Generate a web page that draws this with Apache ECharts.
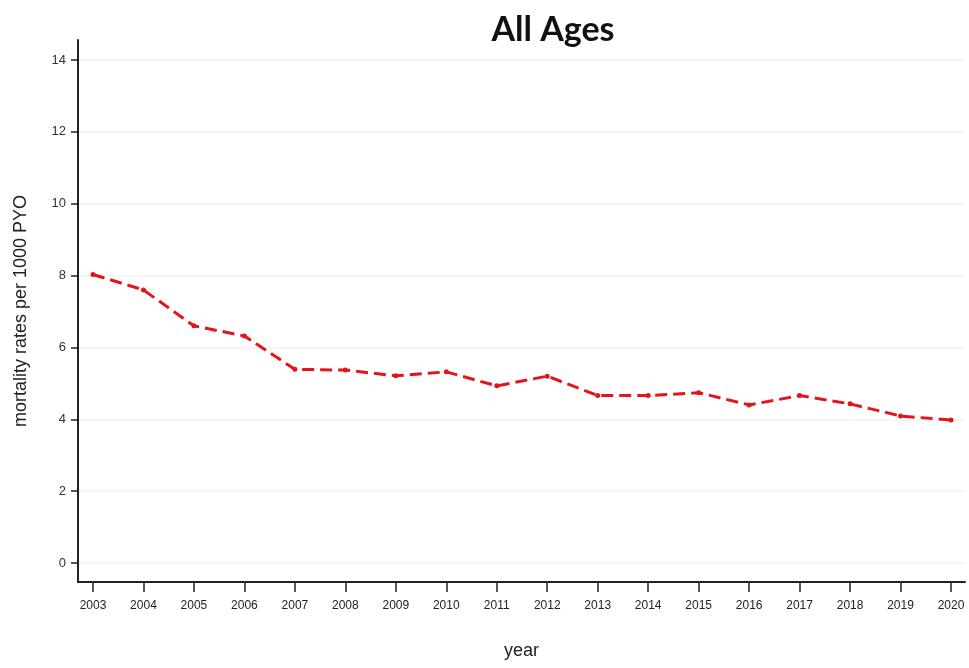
<!DOCTYPE html>
<html>
<head>
<meta charset="utf-8">
<script src="https://cdn.jsdelivr.net/npm/echarts@6/dist/echarts.min.js"></script>
<style>
  html, body { margin: 0; padding: 0; background: #fff; }
  #chart { width: 969px; height: 668px; }
</style>
</head>
<body>
<div id="chart"></div>
<script>
// years on the x axis
var years = [2003, 2004, 2005, 2006, 2007, 2008, 2009, 2010, 2011, 2012,
             2013, 2014, 2015, 2016, 2017, 2018, 2019, 2020];
// mortality rate per 1000 PYO
var rates = [8.03, 7.6, 6.6, 6.32, 5.39, 5.37, 5.21, 5.32, 4.93, 5.2,
             4.66, 4.66, 4.74, 4.4, 4.66, 4.43, 4.09, 3.98];
var yTicks = [0, 2, 4, 6, 8, 10, 12, 14];

var points = years.map(function (y, i) { return [y, rates[i]]; });

var chart = echarts.init(document.getElementById('chart'));
chart.setOption({
  animation: false,
  backgroundColor: '#fff',
  title: {
    text: 'All Ages',
    left: 548,
    top: 8,
    textAlign: 'center',
    textStyle: { fontFamily: 'Lato', fontWeight: 'bold', fontSize: 34, color: '#111' }
  },
  grid: { left: 78, right: 4, top: 40, bottom: 86 },
  xAxis: {
    type: 'value',
    min: 2002.703,
    max: 2020.277,
    name: 'year',
    nameLocation: 'middle',
    nameGap: 60,
    nameTextStyle: { fontFamily: 'Liberation Sans', fontSize: 18, color: '#222' },
    axisLine: { show: true, onZero: false, lineStyle: { color: '#222', width: 2 } },
    axisTick: { show: true, length: 10, customValues: years, lineStyle: { color: '#222', width: 1.5 } },
    axisLabel: {
      customValues: years,
      margin: 18,
      fontFamily: 'Liberation Sans',
      fontSize: 12,
      color: '#222',
      formatter: function (v) { return String(Math.round(v)); }
    },
    splitLine: { show: false }
  },
  yAxis: {
    type: 'value',
    min: -0.529,
    max: 14.557,
    name: 'mortality rates per 1000 PYO',
    nameLocation: 'middle',
    nameGap: 48,
    nameRotate: 90,
    nameTextStyle: { fontFamily: 'Liberation Sans', fontSize: 18, color: '#222' },
    axisLine: { show: true, onZero: false, lineStyle: { color: '#222', width: 2 } },
    axisTick: { show: true, length: 7, customValues: yTicks, lineStyle: { color: '#222', width: 1.5 } },
    axisLabel: {
      customValues: yTicks,
      margin: 12,
      fontFamily: 'Liberation Sans',
      fontSize: 13,
      color: '#333'
    },
    splitLine: { show: true, lineStyle: { color: '#f2f2f2', width: 1.5 } }
  },
  series: [{
    type: 'line',
    data: points,
    symbol: 'circle',
    symbolSize: 5,
    itemStyle: { color: '#e3141c' },
    lineStyle: { color: '#e3141c', width: 3, type: [12, 6] }
  }]
});
</script>
</body>
</html>
